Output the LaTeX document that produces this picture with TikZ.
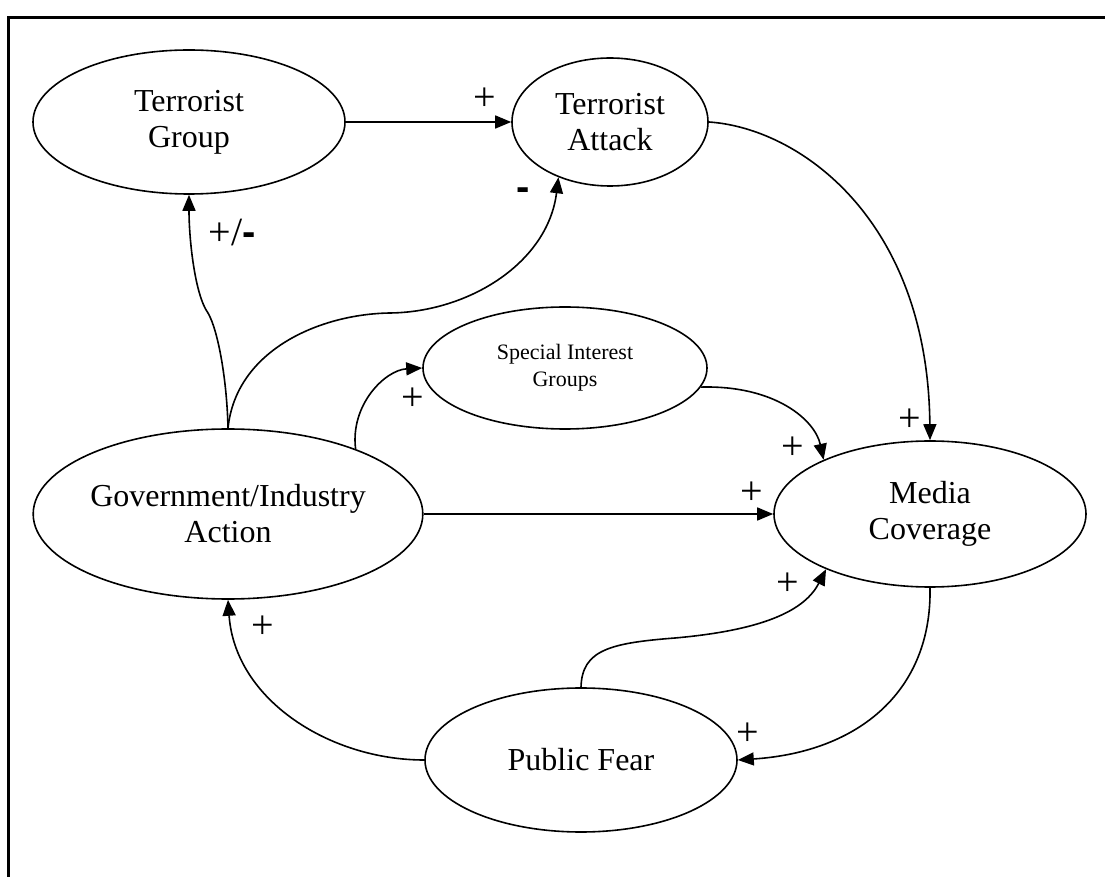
\documentclass[tikz,border=0pt]{standalone}
\usepackage{fontspec}
\setmainfont{Liberation Serif}
\newfontfamily\dashfont{Liberation Sans}
\usetikzlibrary{shapes,arrows.meta,positioning}
\newcommand{\boldminus}{{\dashfont\bfseries -}}

\begin{document}
\begin{tikzpicture}[x=0.5pt,y=-0.5pt,
  loop/.style={draw,ellipse,inner sep=0pt,line width=0.8pt,align=center,
    font=\fontsize{16}{18}\selectfont},
  link/.style={line width=0.8pt,-{Triangle[length=8pt,width=6.5pt]}},
  sign/.style={inner sep=0pt,font=\fontsize{20}{20}\selectfont}]

\useasboundingbox (0,0) rectangle (1105,877);
\draw[line width=1.5pt] (8,877) -- (8,18) -- (1105,18);

\node[loop,minimum width=156pt,minimum height=72pt] (TG) at (189,122) {Terrorist\\Group};
\node[loop,minimum width=98pt,minimum height=64pt] (TA) at (610,122) {Terrorist\\Attack};
\node[loop,minimum width=142pt,minimum height=61pt,font=\fontsize{11}{13.5}\selectfont] (SI) at (565,368) {Special Interest\\Groups};
\node[loop,minimum width=168pt,minimum height=85pt] (GA) at (228,514) {Government/Industry\\Action};
\node[loop,minimum width=156pt,minimum height=73pt] (MC) at (930,514) {Media\\Coverage};
\node[loop,minimum width=156pt,minimum height=72pt] (PF) at (581,760) {Public Fear};

\draw[link] (TG.east) -- (TA.west);
\draw[link] (GA.north) .. controls (227,380) and (218,330) .. (208,313) .. controls (195,295) and (189,240) .. (TG.south);
\draw[link] (GA.north) .. controls (236,350) and (320,314) .. (390,313) .. controls (470,312) and (548,262) .. (TA.227);
\draw[link] (GA.27) .. controls (350,405) and (385,370) .. (SI.west);
\draw[link] (GA.east) -- (MC.west);
\draw[link] (TA.east) .. controls (800,128) and (928,220) .. (MC.north);
\draw[link] (SI.352) .. controls (775,385) and (815,420) .. (MC.153);
\draw[link] (PF.north) .. controls (582,650) and (610,643) .. (675,638) .. controls (765,630) and (805,610) .. (MC.208);
\draw[link] (MC.south) .. controls (932,690) and (860,752) .. (PF.east);
\draw[link] (PF.west) .. controls (330,760) and (235,700) .. (GA.south);

\node[sign] (s1) at (485,99) {+};
\node[sign] (s2) at (523,194) {\boldminus};
\node[sign] (s3) at (232,233) {+/\boldminus};
\node[sign] (s4) at (413,399) {+};
\node[sign] (s5) at (910,420) {+};
\node[sign] (s6) at (793,448) {+};
\node[sign] (s7) at (752,493) {+};
\node[sign] (s8) at (788,584) {+};
\node[sign] (s9) at (748,734) {+};
\node[sign] (s10) at (263,627) {+};

\end{tikzpicture}
\end{document}
